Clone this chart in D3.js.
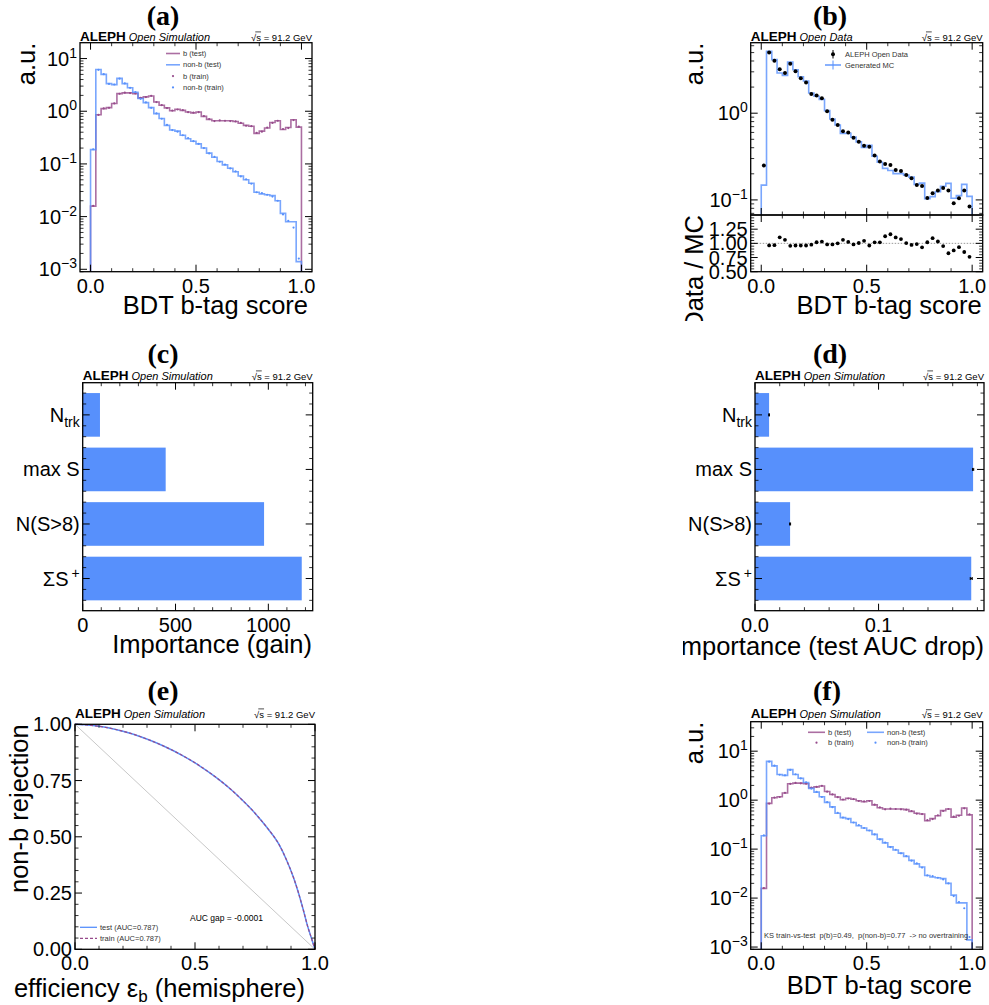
<!DOCTYPE html>
<html>
<head>
<meta charset="utf-8">
<script src="https://cdn.jsdelivr.net/npm/d3@7"></script>
<style>
body { margin: 0; background: #fff; }
text { font-family: "Liberation Sans", Arial, sans-serif; }
</style>
</head>
<body>
<svg id="fig" width="989" height="1005"></svg>
<script>
// ---- data ----
const nBins = 40, scoreLo = 0, scoreHi = 1;
const edges = d3.range(nBins + 1).map(i => scoreLo + i * (scoreHi - scoreLo) / nBins);

const bTest = [0.0158, 0.86, 1.12, 1.17, 1.40, 2.16, 2.23, 2.23, 2.16, 1.79,
               1.87, 1.95, 1.50, 1.30, 1.16, 1.02, 1.09, 1.04, 0.97, 0.93,
               0.97, 0.80, 0.70, 0.66, 0.66, 0.66, 0.66, 0.64, 0.59, 0.54,
               0.52, 0.38, 0.42, 0.48, 0.61, 0.66, 0.45, 0.49, 0.69, 0.50];
const bTrain = [0.0160, 0.85, 1.13, 1.16, 1.41, 2.15, 2.25, 2.21, 2.17, 1.80,
                1.86, 1.96, 1.49, 1.31, 1.15, 1.03, 1.08, 1.05, 0.96, 0.94,
                0.96, 0.81, 0.71, 0.65, 0.67, 0.66, 0.65, 0.64, 0.60, 0.53,
                0.52, 0.39, 0.41, 0.49, 0.60, 0.66, 0.46, 0.48, 0.68, 0.51];
const nbTest = [0.187, 6.2, 5.0, 3.35, 3.2, 4.2, 3.35, 2.8, 2.3, 1.74,
                1.46, 1.17, 0.90, 0.73, 0.54, 0.44, 0.42, 0.35, 0.30, 0.27,
                0.24, 0.20, 0.16, 0.134, 0.111, 0.096, 0.083, 0.071, 0.059, 0.050,
                0.043, 0.029, 0.027, 0.026, 0.025, 0.020, 0.0115, 0.0080, 0.0080, 0.0014];
const nbTrain = [0.190, 6.1, 5.05, 3.3, 3.22, 4.15, 3.38, 2.78, 2.32, 1.72,
                 1.47, 1.16, 0.91, 0.72, 0.55, 0.44, 0.41, 0.35, 0.31, 0.27,
                 0.24, 0.20, 0.158, 0.136, 0.110, 0.097, 0.082, 0.072, 0.058, 0.051,
                 0.042, 0.029, 0.028, 0.026, 0.024, 0.020, 0.0110, 0.0083, 0.0062, 0.0016];

const dataVals = [0.249, 5.0, 4.02, 3.22, 2.90, 3.71, 3.05, 2.53, 2.26, 1.67,
                  1.60, 1.49, 1.05, 0.84, 0.73, 0.62, 0.60, 0.52, 0.47, 0.42,
                  0.41, 0.325, 0.277, 0.26, 0.253, 0.222, 0.216, 0.194, 0.178, 0.149,
                  0.145, 0.105, 0.119, 0.128, 0.137, 0.128, 0.0915, 0.1045, 0.128, 0.0838];
const mcVals = [0.148, 5.19, 4.15, 2.91, 2.73, 3.88, 3.17, 2.63, 2.35, 1.71,
                1.57, 1.445, 1.07, 0.856, 0.73, 0.584, 0.585, 0.53, 0.467, 0.402,
                0.426, 0.319, 0.272, 0.231, 0.218, 0.201, 0.201, 0.193, 0.183, 0.151,
                0.156, 0.103, 0.109, 0.124, 0.144, 0.155, 0.1045, 0.112, 0.151, 0.11];

// feature importances, bottom to top
const features = ["sumS", "nS8", "maxS", "ntrk"];
const gainVals = [1180, 977, 447, 93];
const aucDrop = [0.175, 0.0284, 0.1765, 0.0114];
const aucDropErr = [0.0008, 0.0004, 0.0005, 0.0003];

// ROC
const rocEff = [0, 0.05, 0.1, 0.17, 0.24, 0.31, 0.38, 0.45, 0.5, 0.55, 0.6, 0.65, 0.7,
                0.75, 0.8, 0.85, 0.88, 0.91, 0.93, 0.95, 0.97, 0.985, 1.0];
const rocRejTest = [1.0, 0.997, 0.991, 0.977, 0.957, 0.93, 0.898, 0.86, 0.829, 0.793, 0.754, 0.71, 0.66,
                    0.605, 0.541, 0.466, 0.40, 0.32, 0.255, 0.18, 0.10, 0.05, 0.0];
const rocRejTrain = [1.0, 0.997, 0.991, 0.977, 0.957, 0.93, 0.898, 0.86, 0.829, 0.793, 0.754, 0.71, 0.66,
                     0.605, 0.541, 0.466, 0.40, 0.32, 0.255, 0.18, 0.10, 0.05, 0.0];

const blue = "#5790fc", purple = "#964a8b";
const fig = d3.select("#fig");

function cell(x, y, w, h) {
  return fig.append("svg").attr("x", x).attr("y", y).attr("width", w).attr("height", h)
    .attr("viewBox", `${x} ${y} ${w} ${h}`).attr("overflow", "hidden");
}

function caption(txt, x, y) {
  fig.append("text").attr("x", x).attr("y", y).attr("text-anchor", "middle")
    .style("font-family", "'Liberation Serif', 'DejaVu Serif', serif")
    .attr("font-weight", "bold").attr("font-size", 28).text(txt);
}

function header(g, P, yb, sub) {
  const t = g.append("text").attr("x", P.x0).attr("y", yb);
  t.append("tspan").attr("font-weight", "bold").attr("font-size", 13.5).text("ALEPH");
  t.append("tspan").attr("font-style", "italic").attr("font-size", 11).attr("dx", 3).text(sub);
  const r = g.append("text").attr("x", P.x1).attr("y", yb).attr("text-anchor", "end")
    .attr("font-size", 9.5).text("\u221As = 91.2 GeV");
  const n = r.node();
  const total = n.getComputedTextLength();
  const start = P.x1 - total;
  const a = n.getSubStringLength(0, 1), b = n.getSubStringLength(1, 1);
  g.append("line").attr("x1", start + a - 1).attr("x2", start + a + b)
    .attr("y1", yb - 8.6).attr("y2", yb - 8.6).attr("stroke", "#000").attr("stroke-width", 0.7);
}

function axes(g, P, xs, ys, o) {
  const tk = g.append("g").attr("stroke", "#000");
  const L = 7, l = 3.5;
  (o.xMajor || []).forEach(v => {
    const x = xs(v);
    tk.append("line").attr("x1", x).attr("x2", x).attr("y1", P.y1).attr("y2", P.y1 - L).attr("stroke-width", 1);
    tk.append("line").attr("x1", x).attr("x2", x).attr("y1", P.y0).attr("y2", P.y0 + L).attr("stroke-width", 1);
  });
  (o.xMinor || []).forEach(v => {
    const x = xs(v);
    tk.append("line").attr("x1", x).attr("x2", x).attr("y1", P.y1).attr("y2", P.y1 - l).attr("stroke-width", 0.8);
    tk.append("line").attr("x1", x).attr("x2", x).attr("y1", P.y0).attr("y2", P.y0 + l).attr("stroke-width", 0.8);
  });
  (o.yMajor || []).forEach(v => {
    const y = ys(v);
    tk.append("line").attr("x1", P.x0).attr("x2", P.x0 + L).attr("y1", y).attr("y2", y).attr("stroke-width", 1);
    tk.append("line").attr("x1", P.x1).attr("x2", P.x1 - L).attr("y1", y).attr("y2", y).attr("stroke-width", 1);
  });
  (o.yMinor || []).forEach(v => {
    const y = ys(v);
    tk.append("line").attr("x1", P.x0).attr("x2", P.x0 + l).attr("y1", y).attr("y2", y).attr("stroke-width", 0.8);
    tk.append("line").attr("x1", P.x1).attr("x2", P.x1 - l).attr("y1", y).attr("y2", y).attr("stroke-width", 0.8);
  });
  g.append("rect").attr("x", P.x0).attr("y", P.y0).attr("width", P.x1 - P.x0).attr("height", P.y1 - P.y0)
    .attr("fill", "none").attr("stroke", "#000").attr("stroke-width", 1.3);
  if (o.xFmt) {
    o.xMajor.forEach(v => {
      g.append("text").attr("x", xs(v)).attr("y", P.y1 + 21).attr("text-anchor", "middle")
        .attr("font-size", 20).text(o.xFmt(v));
    });
  }
  if (o.yFmt) {
    o.yMajor.forEach(v => {
      const t = g.append("text").attr("x", P.x0 - 3).attr("y", ys(v)).attr("dy", "0.35em")
        .attr("text-anchor", "end").attr("font-size", 20);
      o.yFmt(t, v);
    });
  }
}

function logFmt(t, v) {
  const e = Math.round(Math.log10(v));
  t.append("tspan").text("10");
  t.append("tspan").attr("font-size", 14).attr("dy", -8).text(e < 0 ? "\u2212" + (-e) : String(e));
}

function logMinor(lo, hi) {
  const out = [];
  for (let d = -5; d <= 3; d++) for (let m = 2; m <= 9; m++) {
    const v = m * Math.pow(10, d);
    if (v > lo && v < hi) out.push(v);
  }
  return out;
}

function xLabel(g, txt, xEnd, yb) {
  return g.append("text").attr("x", xEnd).attr("y", yb).attr("text-anchor", "end").attr("font-size", 25.5).text(txt);
}
function yLabel(g, txt, xb, yTop) {
  return g.append("text").attr("transform", `translate(${xb},${yTop}) rotate(-90)`)
    .attr("text-anchor", "end").attr("font-size", 25.5).text(txt);
}

function stepLine(g, xs, ys, vals, color, yBottom) {
  const pts = [[xs(edges[0]), yBottom]];
  vals.forEach((v, i) => { pts.push([xs(edges[i]), ys(v)]); pts.push([xs(edges[i + 1]), ys(v)]); });
  pts.push([xs(edges[nBins]), yBottom]);
  g.append("path").attr("d", d3.line()(pts)).attr("fill", "none").attr("stroke", color)
    .attr("stroke-width", 1.6).attr("stroke-opacity", 0.8);
}
function dots(g, xs, ys, vals, color, r) {
  g.selectAll(null).data(vals).join("circle")
    .attr("cx", (d, i) => xs((edges[i] + edges[i + 1]) / 2)).attr("cy", d => ys(d))
    .attr("r", r).attr("fill", color);
}

const xMinor01 = [0.1, 0.2, 0.3, 0.4, 0.6, 0.7, 0.8, 0.9];

// ================= (a) =================
caption("(a)", 163, 25);
const gA = cell(0, 26, 340, 299);
const A = {x0: 80, x1: 312, y0: 42.7, y1: 271.7};
const xA = d3.scaleLinear([-0.05, 1.05], [A.x0, A.x1]);
const yA = d3.scaleLog([9e-4, 20], [A.y1, A.y0]).clamp(true);
stepLine(gA, xA, yA, bTest, purple, A.y1);
stepLine(gA, xA, yA, nbTest, blue, A.y1);
dots(gA, xA, yA, bTrain, purple, 1.1);
dots(gA, xA, yA, nbTrain, blue, 1.1);
axes(gA, A, xA, yA, {
  xMajor: [0, 0.5, 1], xMinor: xMinor01, xFmt: d3.format(".1f"),
  yMajor: [1e-3, 1e-2, 1e-1, 1, 10], yMinor: logMinor(9e-4, 20), yFmt: logFmt
});
header(gA, A, 40.5, "Open Simulation");
{
  const lg = gA.append("g").attr("font-size", 7.5);
  const rows = [["b (test)", "line", purple], ["non-b (test)", "line", blue], ["b (train)", "dot", purple], ["non-b (train)", "dot", blue]];
  rows.forEach((r, i) => {
    const y = 53.5 + i * 11.3;
    if (r[1] === "line") lg.append("line").attr("x1", 166).attr("x2", 180).attr("y1", y).attr("y2", y)
      .attr("stroke", r[2]).attr("stroke-width", 1.6).attr("stroke-opacity", 0.8);
    else lg.append("circle").attr("cx", 173).attr("cy", y).attr("r", 1.1).attr("fill", r[2]);
    lg.append("text").attr("x", 183).attr("y", y).attr("dy", "0.35em").attr("fill", "#333").text(r[0]);
  });
}
xLabel(gA, "BDT b-tag score", 308, 314);
yLabel(gA, "a.u.", 35, 42.7);

// ================= (b) =================
caption("(b)", 830, 25);
const gB = cell(683, 26, 306, 295);
const B = {x0: 750.7, x1: 982.7, y0: 42.7, y1: 215};
const BR = {x0: 750.7, x1: 982.7, y0: 215, y1: 271.7};
const xB = d3.scaleLinear([-0.05, 1.05], [B.x0, B.x1]);
const yB = d3.scaleLog([0.067, 6.5], [B.y1, B.y0]).clamp(true);
const yBR = d3.scaleLinear([0.5, 1.5], [BR.y1, BR.y0]);
stepLine(gB, xB, yB, mcVals, blue, B.y1);
dots(gB, xB, yB, dataVals, "#000", 2);
axes(gB, B, xB, yB, {
  xMajor: [0, 0.5, 1], xMinor: xMinor01,
  yMajor: [0.1, 1], yMinor: logMinor(0.067, 6.5), yFmt: logFmt
});
// ratio
const ratio = dataVals.map((d, i) => d / mcVals[i]);
gB.append("line").attr("x1", BR.x0).attr("x2", BR.x1).attr("y1", yBR(1)).attr("y2", yBR(1))
  .attr("stroke", "#999").attr("stroke-width", 1).attr("stroke-dasharray", "1.5,1.5");
gB.selectAll(null).data(ratio.map((r, i) => [r, i]).filter(d => d[0] >= 0.5 && d[0] <= 1.5)).join("circle")
  .attr("cx", d => xB((edges[d[1]] + edges[d[1] + 1]) / 2)).attr("cy", d => yBR(d[0])).attr("r", 1.9).attr("fill", "#000");
axes(gB, BR, xB, yBR, {
  xMajor: [0, 0.5, 1], xMinor: xMinor01, xFmt: d3.format(".1f"),
  yMajor: [0.5, 0.75, 1, 1.25], yMinor: [0.55, 0.6, 0.65, 0.7, 0.8, 0.85, 0.9, 0.95, 1.05, 1.1, 1.15, 1.2, 1.3, 1.35, 1.4, 1.45],
  yFmt: (t, v) => t.text(d3.format(".2f")(v))
});
header(gB, B, 40.5, "Open Data");
{
  const lg = gB.append("g").attr("font-size", 7.5);
  lg.append("line").attr("x1", 833).attr("x2", 833).attr("y1", 50).attr("y2", 58.5).attr("stroke", "#000").attr("stroke-width", 1);
  lg.append("circle").attr("cx", 833).attr("cy", 54.3).attr("r", 2).attr("fill", "#000");
  lg.append("text").attr("x", 845).attr("y", 54.3).attr("dy", "0.35em").attr("fill", "#333").text("ALEPH Open Data");
  lg.append("line").attr("x1", 825).attr("x2", 841).attr("y1", 65).attr("y2", 65).attr("stroke", blue).attr("stroke-width", 1.4);
  lg.append("line").attr("x1", 833).attr("x2", 833).attr("y1", 60.5).attr("y2", 69.5).attr("stroke", blue).attr("stroke-width", 1);
  lg.append("text").attr("x", 845).attr("y", 65).attr("dy", "0.35em").attr("fill", "#333").text("Generated MC");
}
xLabel(gB, "BDT b-tag score", 981.7, 314);
yLabel(gB, "a.u.", 703, 42.7);
yLabel(gB, "Data / MC", 703, 215);

// ================= (c) & (d) =================
function featLabel(t, i) {
  const f = features[i];
  if (f === "ntrk") { t.append("tspan").text("N"); t.append("tspan").attr("font-size", 14).attr("dy", 5).text("trk"); }
  else if (f === "maxS") t.text("max S");
  else if (f === "nS8") t.text("N(S>8)");
  else { t.append("tspan").text("\u03A3S"); t.append("tspan").attr("font-size", 14).attr("dx", 3).attr("dy", -8).text("+"); }
}
const catMinor = d3.range(-0.4, 3.5, 0.2).filter(v => Math.abs(v - Math.round(v)) > 0.05);

caption("(c)", 163, 363);
const gC = cell(0, 366, 340, 296);
const C = {x0: 82.7, x1: 312.7, y0: 382.7, y1: 610.7};
const xC = d3.scaleLinear([0, d3.max(gainVals) * 1.05], [C.x0, C.x1]);
const yC = d3.scaleLinear([-0.59, 3.59], [C.y1, C.y0]);
gC.selectAll(null).data(gainVals).join("rect")
  .attr("x", xC(0)).attr("y", (d, i) => yC(i + 0.4)).attr("width", d => xC(d) - xC(0))
  .attr("height", (d, i) => yC(i - 0.4) - yC(i + 0.4)).attr("fill", blue);
axes(gC, C, xC, yC, {
  xMajor: [0, 500, 1000], xMinor: [100, 200, 300, 400, 600, 700, 800, 900, 1100, 1200], xFmt: d3.format("d"),
  yMajor: [0, 1, 2, 3], yMinor: catMinor, yFmt: featLabel
});
header(gC, C, 379.5, "Open Simulation");
xLabel(gC, "Importance (gain)", 312, 653);

caption("(d)", 830, 363);
const gD = cell(683, 366, 306, 296);
const D = {x0: 755, x1: 984, y0: 382.7, y1: 610.7};
const xD = d3.scaleLinear([0, d3.max(aucDrop) * 1.05], [D.x0, D.x1]);
const yD = d3.scaleLinear([-0.59, 3.59], [D.y1, D.y0]);
gD.selectAll(null).data(aucDrop).join("rect")
  .attr("x", xD(0)).attr("y", (d, i) => yD(i + 0.4)).attr("width", d => xD(d) - xD(0))
  .attr("height", (d, i) => yD(i - 0.4) - yD(i + 0.4)).attr("fill", blue);
aucDrop.forEach((v, i) => {
  const y = yD(i), e = aucDropErr[i];
  gD.append("line").attr("x1", xD(v - e)).attr("x2", xD(v + e)).attr("y1", y).attr("y2", y).attr("stroke", "#000").attr("stroke-width", 1.5);
  [v - e, v + e].forEach(c => gD.append("line").attr("x1", xD(c)).attr("x2", xD(c)).attr("y1", y - 1.5).attr("y2", y + 1.5).attr("stroke", "#000").attr("stroke-width", 1));
});
axes(gD, D, xD, yD, {
  xMajor: [0, 0.1], xMinor: [0.02, 0.04, 0.06, 0.08, 0.12, 0.14, 0.16, 0.18], xFmt: d3.format(".1f"),
  yMajor: [0, 1, 2, 3], yMinor: catMinor, yFmt: featLabel
});
header(gD, D, 379.5, "Open Simulation");
xLabel(gD, "Importance (test AUC drop)", 984, 655);

// ================= (e) =================
caption("(e)", 163, 700);
const gE = cell(0, 704, 340, 301);
const E = {x0: 75, x1: 315, y0: 724.3, y1: 949.3};
const xE = d3.scaleLinear([0, 1], [E.x0, E.x1]);
const yE = d3.scaleLinear([0, 1], [E.y1, E.y0]);
gE.append("line").attr("x1", xE(0)).attr("y1", yE(1)).attr("x2", xE(1)).attr("y2", yE(0))
  .attr("stroke", "#c8c8c8").attr("stroke-width", 1);
const roc = d3.line().x(d => xE(d[0])).y(d => yE(d[1])).curve(d3.curveMonotoneX);
gE.append("path").attr("d", roc(rocEff.map((e, i) => [e, rocRejTest[i]])))
  .attr("fill", "none").attr("stroke", blue).attr("stroke-width", 1.5);
gE.append("path").attr("d", roc(rocEff.map((e, i) => [e, rocRejTrain[i]])))
  .attr("fill", "none").attr("stroke", purple).attr("stroke-width", 1.2).attr("stroke-dasharray", "3,2");
axes(gE, E, xE, yE, {
  xMajor: [0, 0.5, 1], xMinor: xMinor01, xFmt: d3.format(".1f"),
  yMajor: [0, 0.25, 0.5, 0.75, 1], yMinor: [0.05, 0.1, 0.15, 0.2, 0.3, 0.35, 0.4, 0.45, 0.55, 0.6, 0.65, 0.7, 0.8, 0.85, 0.9, 0.95],
  yFmt: (t, v) => t.text(d3.format(".2f")(v))
});
header(gE, E, 717.5, "Open Simulation");
{
  const lg = gE.append("g").attr("font-size", 7.5);
  lg.append("line").attr("x1", 80).attr("x2", 97).attr("y1", 927.3).attr("y2", 927.3).attr("stroke", blue).attr("stroke-width", 1.3);
  lg.append("text").attr("x", 100).attr("y", 927.3).attr("dy", "0.35em").attr("fill", "#333").text("test (AUC=0.787)");
  lg.append("line").attr("x1", 80).attr("x2", 97).attr("y1", 938.3).attr("y2", 938.3).attr("stroke", purple).attr("stroke-width", 1.2).attr("stroke-dasharray", "3,2");
  lg.append("text").attr("x", 100).attr("y", 938.3).attr("dy", "0.35em").attr("fill", "#333").text("train (AUC=0.787)");
  gE.append("text").attr("x", 190).attr("y", 918).attr("dy", "0.35em").attr("font-size", 8.5).text("AUC gap = -0.0001");
}
{
  const t = gE.append("text").attr("x", 305).attr("y", 997).attr("text-anchor", "end").attr("font-size", 25.5);
  t.append("tspan").text("efficiency \u03B5");
  t.append("tspan").attr("font-size", 17).attr("dy", 5).text("b");
  t.append("tspan").attr("dy", -5).text(" (hemisphere)");
}
yLabel(gE, "non-b rejection", 28, 724.3);

// ================= (f) =================
caption("(f)", 827, 700);
const gF = cell(683, 704, 306, 301);
const F = {x0: 750.7, x1: 982.7, y0: 721.7, y1: 949.3};
const xF = d3.scaleLinear([-0.05, 1.05], [F.x0, F.x1]);
const yF = d3.scaleLog([9e-4, 40], [F.y1, F.y0]).clamp(true);
stepLine(gF, xF, yF, bTest, purple, F.y1);
stepLine(gF, xF, yF, nbTest, blue, F.y1);
dots(gF, xF, yF, bTrain, purple, 1.1);
dots(gF, xF, yF, nbTrain, blue, 1.1);
axes(gF, F, xF, yF, {
  xMajor: [0, 0.5, 1], xMinor: xMinor01, xFmt: d3.format(".1f"),
  yMajor: [1e-3, 1e-2, 1e-1, 1, 10], yMinor: logMinor(9e-4, 40), yFmt: logFmt
});
header(gF, F, 718.3, "Open Simulation");
{
  const lg = gF.append("g").attr("font-size", 7.5);
  const items = [["b (test)", "line", purple, 808, 732.3], ["non-b (test)", "line", blue, 867, 732.3],
                 ["b (train)", "dot", purple, 808, 742.7], ["non-b (train)", "dot", blue, 867, 742.7]];
  items.forEach(r => {
    if (r[1] === "line") lg.append("line").attr("x1", r[3]).attr("x2", r[3] + 17).attr("y1", r[4]).attr("y2", r[4])
      .attr("stroke", r[2]).attr("stroke-width", 1.6).attr("stroke-opacity", 0.8);
    else lg.append("circle").attr("cx", r[3] + 8.5).attr("cy", r[4]).attr("r", 1.1).attr("fill", r[2]);
    lg.append("text").attr("x", r[3] + 20).attr("y", r[4]).attr("dy", "0.35em").attr("fill", "#333").text(r[0]);
  });
  gF.append("text").attr("x", 764).attr("y", 935).attr("dy", "0.35em").attr("font-size", 7.5)
    .attr("fill", "#333").style("white-space", "pre")
    .text("KS train-vs-test  p(b)=0.49,  p(non-b)=0.77  -> no overtraining");
}
xLabel(gF, "BDT b-tag score", 972, 994);
yLabel(gF, "a.u.", 703, 721.7);
</script>
</body>
</html>
